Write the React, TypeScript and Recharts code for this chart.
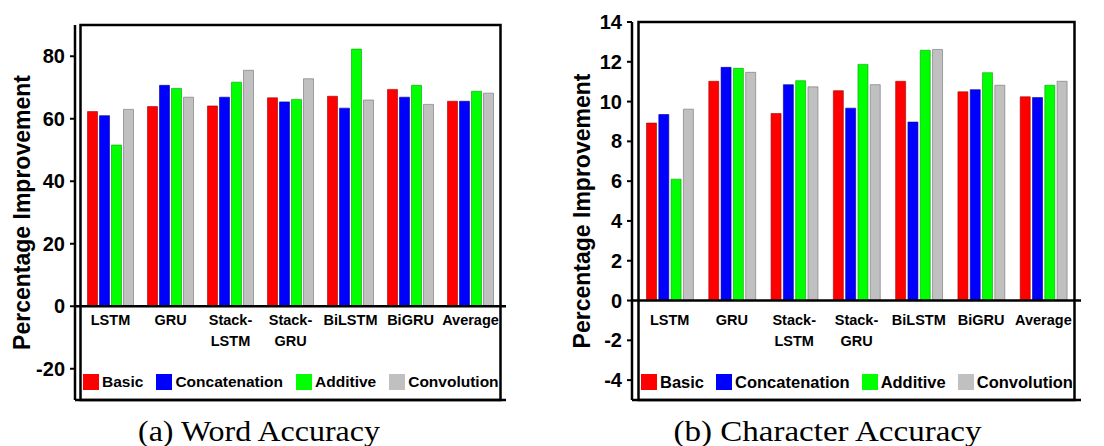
import React from "react";
import { BarChart, Bar, XAxis, YAxis, ReferenceLine, ReferenceArea, Legend } from "recharts";

const categories = ["LSTM", "GRU", "Stack-LSTM", "Stack-GRU", "BiLSTM", "BiGRU", "Average"];
const seriesNames = ["Basic", "Concatenation", "Additive", "Convolution"];
const seriesColors = ["#ff0000", "#0000ff", "#00ff00", "#c0c0c0"];
const seriesEdges = ["#a00000", "#000090", "#00a000", "#707070"];

// (a) word accuracy
const wordBasic = [62.3, 63.9, 64.1, 66.7, 67.2, 69.4, 65.6];
const wordConcat = [61.0, 70.7, 66.9, 65.4, 63.4, 66.9, 65.6];
const wordAdditive = [51.6, 69.7, 71.7, 66.2, 82.3, 70.7, 68.8];
const wordConv = [63.0, 66.9, 75.5, 72.8, 66.0, 64.6, 68.2];
const wordTicks = [-20, 0, 20, 40, 60, 80];

// (b) character accuracy
const charBasic = [8.92, 11.02, 9.4, 10.55, 11.02, 10.49, 10.24];
const charConcat = [9.35, 11.72, 10.85, 9.67, 8.97, 10.6, 10.2];
const charAdditive = [6.1, 11.67, 11.05, 11.87, 12.58, 11.45, 10.82];
const charConv = [9.62, 11.47, 10.74, 10.85, 12.62, 10.82, 11.02];
const charTicks = [-4, -2, 0, 2, 4, 6, 8, 10, 12, 14];

const SANS = "'Liberation Sans', Arial, sans-serif";
const SERIF = "'Liberation Serif', 'DejaVu Serif', serif";

const buildRows = (cols: number[][]) =>
  categories.map((name, i) => {
    const row: Record<string, string | number> = { name };
    seriesNames.forEach((s, j) => (row[s] = cols[j][i]));
    return row;
  });

const wordData = buildRows([wordBasic, wordConcat, wordAdditive, wordConv]);
const charData = buildRows([charBasic, charConcat, charAdditive, charConv]);

// labels sit just under the zero line, not at the bottom of the box
const renderTick = (props: any) => {
  const { x, y, payload } = props;
  const v: string = String(payload.value);
  const parts = v.includes("-") ? [v.split("-")[0] + "-", v.split("-")[1]] : [v];
  return (
    <text x={x} y={y - 80} textAnchor="middle" fontSize={14.5} fontWeight="bold" fill="#000" fontFamily={SANS}>
      {parts.map((p, i) => (
        <tspan key={p} x={x} dy={i === 0 ? "0.35em" : 21}>
          {p}
        </tspan>
      ))}
    </text>
  );
};

const makeLegend = (fontSize: number, gap: number) => (props: any) => {
  const items = [...(props.payload || [])].sort(
    (a: any, b: any) => seriesNames.indexOf(a.value) - seriesNames.indexOf(b.value)
  );
  return (
    <div style={{ display: "flex", alignItems: "center", fontFamily: SANS, fontWeight: "bold", fontSize, color: "#000", lineHeight: "16px", whiteSpace: "nowrap" }}>
      {items.map((e: any, i: number) => (
        <div key={e.value} style={{ display: "flex", alignItems: "center", marginRight: i < 3 ? gap : 0 }}>
          <span style={{ display: "inline-block", width: 16, height: 16, background: e.color, marginRight: 3 }} />
          <span>{e.value}</span>
        </div>
      ))}
    </div>
  );
};

interface PanelProps {
  data: Record<string, string | number>[];
  ticks: number[];
  domain: [number, number];
  width: number;
  top: number;
  right: number;
  yWidth: number;
  labelX: number;
  pad: number;
  barGap: number;
  legendLeft: number;
  legendFont: number;
  legendGap: number;
}

function Panel(p: PanelProps) {
  return (
    <BarChart
      width={p.width}
      height={410}
      data={p.data}
      margin={{ top: p.top, right: p.right, left: 0, bottom: 0 }}
      barSize={10}
      barGap={p.barGap}
    >
      <XAxis
        dataKey="name"
        height={10}
        tickSize={0}
        tickMargin={0}
        interval={0}
        padding={{ left: p.pad, right: p.pad }}
        axisLine={{ stroke: "#000", strokeWidth: 2.5 }}
        tick={renderTick}
      />
      <YAxis
        width={p.yWidth}
        domain={p.domain}
        ticks={p.ticks}
        interval={0}
        tickSize={5}
        tickMargin={5}
        axisLine={{ stroke: "#000", strokeWidth: 2.5 }}
        tickLine={{ stroke: "#000", strokeWidth: 2 }}
        tick={{ fontSize: 20, fontWeight: "bold", fill: "#000", fontFamily: SANS }}
        label={{
          value: "Percentage Improvement",
          angle: -90,
          position: "insideLeft",
          offset: p.labelX,
          style: { textAnchor: "middle", fontSize: 23, fontWeight: "bold", fill: "#000", fontFamily: SANS },
        }}
      />
      <ReferenceArea y1={p.domain[0]} y2={p.domain[1]} fill="none" stroke="#000" strokeWidth={2.5} ifOverflow="visible" />
      {seriesNames.map((s, i) => (
        <Bar key={s} dataKey={s} fill={seriesColors[i]} stroke={seriesEdges[i]} strokeWidth={0.6} isAnimationActive={false} />
      ))}
      <ReferenceLine y={0} stroke="#000" strokeWidth={2.5} />
      <Legend
        layout="horizontal"
        verticalAlign="middle"
        align="center"
        content={makeLegend(p.legendFont, p.legendGap)}
        wrapperStyle={{ left: p.legendLeft, top: 374, width: "auto" }}
      />
    </BarChart>
  );
}

export default function App() {
  return (
    <div style={{ position: "absolute", left: 0, top: 0, width: 1104, height: 446, background: "#fff", overflow: "hidden" }}>
      <div style={{ position: "absolute", left: 0, top: 0 }}>
        <Panel
          data={wordData}
          ticks={wordTicks}
          domain={[-30, 90]}
          width={520}
          top={25}
          right={14}
          yWidth={75}
          labelX={21.5}
          pad={5.5}
          barGap={2}
          legendLeft={83}
          legendFont={15.5}
          legendGap={13}
        />
      </div>
      <div style={{ position: "absolute", left: 552, top: 0 }}>
        <Panel
          data={charData}
          ticks={charTicks}
          domain={[-5, 14]}
          width={540}
          top={22}
          right={11}
          yWidth={80}
          labelX={29.7}
          pad={6.5}
          barGap={2.3}
          legendLeft={89}
          legendFont={16.5}
          legendGap={12}
        />
      </div>
      <svg width={1104} height={446} style={{ position: "absolute", left: 0, top: 0, pointerEvents: "none" }}>
        <text x={259} y={441} textAnchor="middle" fontSize={30} fontFamily={SERIF} fill="#000" textLength={242} lengthAdjust="spacingAndGlyphs">
          (a) Word Accuracy
        </text>
        <text x={827.5} y={441} textAnchor="middle" fontSize={30} fontFamily={SERIF} fill="#000" textLength={308} lengthAdjust="spacingAndGlyphs">
          (b) Character Accuracy
        </text>
      </svg>
    </div>
  );
}
